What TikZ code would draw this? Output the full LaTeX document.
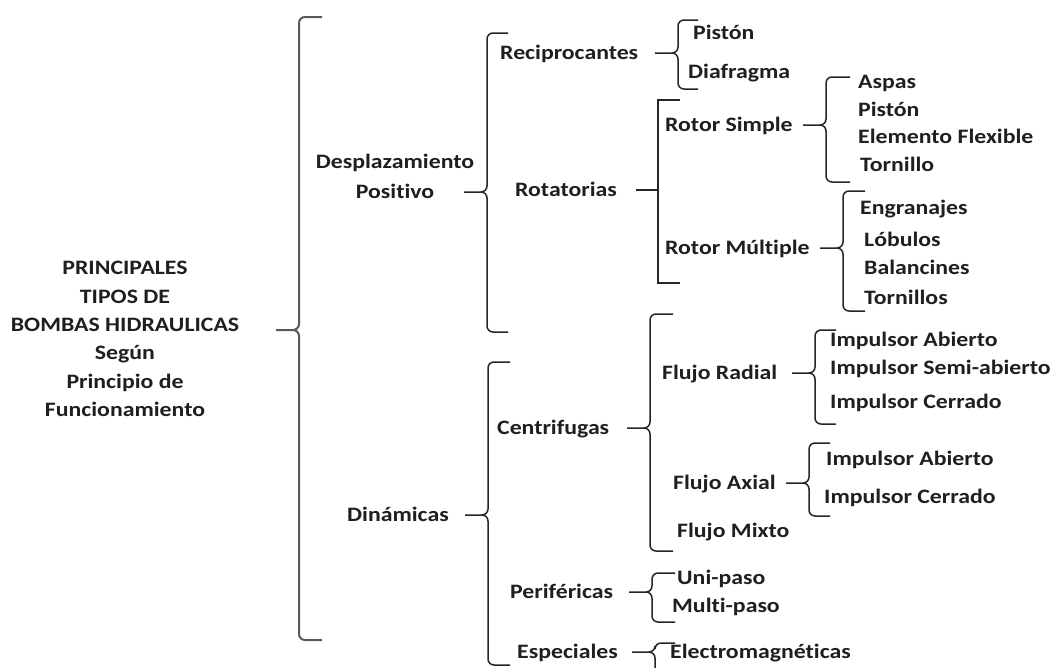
\documentclass[tikz,border=0pt]{standalone}
\usepackage{fontspec}
\setmainfont[FakeStretch=1.16,RawFeature={-liga;-clig;-calt}]{Carlito}
\usetikzlibrary{calc}

% llave: [estilo], punta, x de la barra, y arriba, y abajo, x del gancho
\newcommand{\llave}[6][]{%
  \draw[linea,#1] ({#3-23},0 |- #2) -- ++(17,0) coordinate (q)
    to[out=0,in=-90] ++(6,-6) -- (#3,{#4+6}) to[out=90,in=180] ({#3+6},#4) -- (#6,#4);
  \draw[linea,#1] (q) to[out=0,in=90] ++(6,6) -- (#3,{#5-6})
    to[out=-90,in=180] ({#3+6},#5) -- (#6,#5);}
% corchete recto
\newcommand{\corchete}[5]{%
  \draw[linea] ({#2-22},0 |- #1) -- (#2,0 |- #1);
  \draw[linea] (#5,#3) -- (#2,#3) -- (#2,#4) -- (#5,#4);}

\tikzset{
  txt/.style={anchor=west,inner sep=0pt,text height=14pt,text depth=1pt},
  bloque/.style={align=center,inner sep=0pt},
  linea/.style={line width=1.5pt,black!85},
  gruesa/.style={line width=2pt,black!65}
}

\begin{document}
\begin{tikzpicture}[x=1pt,y=-1pt,font=\bfseries\fontsize{20.5}{28.4}\selectfont,text=black!88]
  \clip (0,0) rectangle (1059,667);
  \fill[white] (0,0) rectangle (1059,667);

  % raiz
  \node[bloque] (raiz) at (125,339) {PRINCIPALES\\TIPOS DE\\BOMBAS HIDRAULICAS\\Según\\Principio de\\Funcionamiento};
  \coordinate (raiz-p) at ([yshift=9pt]raiz.east);
  \llave[gruesa]{raiz-p}{299}{17}{640}{322}

  % desplazamiento positivo
  \node[bloque] (dp) at (395,176) {Desplazamiento\\[1.5pt]Positivo};
  \coordinate (dp-p) at ([yshift=-16pt]dp.east);
  \llave{dp-p}{487}{33}{332}{508}

  \node[txt] (rec) at (500,53) {Reciprocantes};
  \node[txt] (pis1) at (693,33) {Pistón};
  \node[txt] (diaf) at (688,72) {Diafragma};
  \llave{rec}{678}{20}{89}{698}

  \node[txt] (rot) at (515,190) {Rotatorias};
  \corchete{rot}{658}{100}{283}{680}

  \node[txt] (rs) at (665,125) {Rotor Simple};
  \node[txt] (aspas) at (858,82) {Aspas};
  \node[txt] (pis2) at (858,110) {Pistón};
  \node[txt] (elem) at (858,137) {Elemento Flexible};
  \node[txt] (torn) at (860,165) {Tornillo};
  \llave{rs}{826}{77}{182}{850}

  \node[txt] (rm) at (665,248) {Rotor Múltiple};
  \node[txt] (engr) at (860,208) {Engranajes};
  \node[txt] (lob) at (864,240) {Lóbulos};
  \node[txt] (bal) at (864,268) {Balancines};
  \node[txt] (torns) at (864,298) {Tornillos};
  \llave{rm}{843}{191}{311}{865}

  % dinamicas
  \node[txt] (din) at (347,515) {Dinámicas};
  \llave{din}{488}{362}{665}{510}

  \node[txt] (cen) at (497,428) {Centrifugas};
  \llave{cen}{650}{314}{551}{673}

  \node[txt] (fr) at (662,373) {Flujo Radial};
  \node[txt] (ia1) at (830,340) {Impulsor Abierto};
  \node[txt] (isa) at (830,368) {Impulsor Semi-abierto};
  \node[txt] (ic1) at (830,402) {Impulsor Cerrado};
  \llave{fr}{815}{330}{424}{836}

  \node[txt] (fa) at (673,483) {Flujo Axial};
  \node[txt] (ia2) at (826,459) {Impulsor Abierto};
  \node[txt] (ic2) at (824,497) {Impulsor Cerrado};
  \llave{fa}{809}{443}{516}{830}

  \node[txt] (fm) at (677,531) {Flujo Mixto};

  \node[txt] (per) at (510,592) {Periféricas};
  \node[txt] (up) at (677,578) {Uni-paso};
  \node[txt] (mp) at (672,606) {Multi-paso};
  \llave{per}{652}{573}{622}{675}

  \node[txt] (esp) at (517,652) {Especiales};
  \node[txt] (elec) at (670,652) {Electromagnéticas};
  \llave{esp}{655}{643}{685}{675}
\end{tikzpicture}
\end{document}
